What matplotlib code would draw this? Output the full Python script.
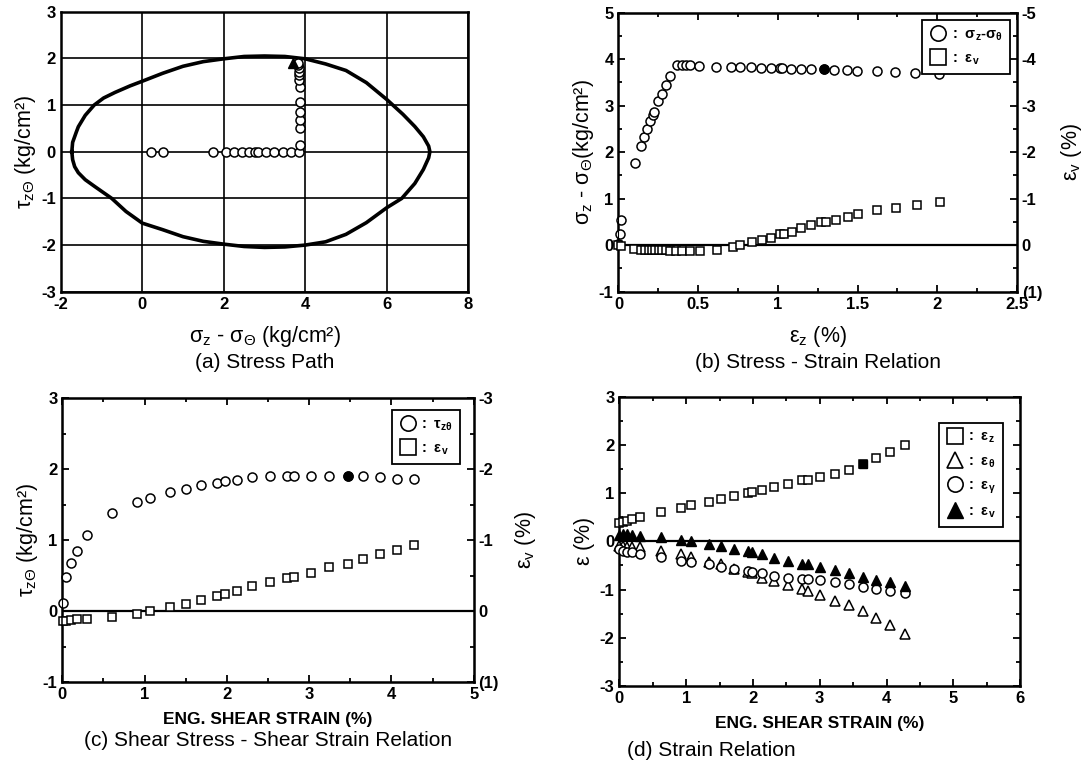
import numpy as np
import matplotlib
matplotlib.use("Agg")
import matplotlib.pyplot as plt
from matplotlib.ticker import MultipleLocator, FormatStrFormatter
from matplotlib.lines import Line2D

plt.rcParams['font.family'] = ['Liberation Sans', 'DejaVu Sans']
plt.rcParams['mathtext.fontset'] = 'custom'
plt.rcParams['mathtext.rm'] = 'Liberation Sans'
plt.rcParams['mathtext.it'] = 'Liberation Sans:italic'
plt.rcParams['mathtext.bf'] = 'Liberation Sans:bold'
plt.rcParams['mathtext.default'] = 'regular'
plt.rcParams['axes.unicode_minus'] = False

## (a) stress path data
fail_x = [-1.73, -1.71, -1.62, -1.57, -1.40, -1.18, -0.95, -0.67, -0.30, 0.0, 0.5, 1.0, 1.5,
          2.0, 2.5, 3.0, 3.5, 4.0, 4.5, 5.0, 5.5, 6.0, 6.4, 6.69, 6.9, 7.03, 7.06, 7.03, 6.9,
          6.69, 6.37, 6.0, 5.5, 5.0, 4.5, 4.0, 3.5, 3.0, 2.5, 2.0, 1.5, 1.0, 0.5, 0.0, -0.4,
          -0.75, -1.16, -1.40, -1.57, -1.66, -1.71, -1.73]
fail_y = [0.0, 0.20, 0.42, 0.535, 0.78, 1.0, 1.15, 1.27, 1.41, 1.51, 1.68, 1.83, 1.93, 1.99,
          2.04, 2.05, 2.04, 1.99, 1.88, 1.74, 1.48, 1.12, 0.80, 0.54, 0.32, 0.12, 0.0, -0.13,
          -0.38, -0.68, -1.0, -1.2, -1.52, -1.77, -1.93, -2.0, -2.04, -2.05, -2.03, -1.98,
          -1.92, -1.82, -1.67, -1.53, -1.28, -1.0, -0.75, -0.60, -0.45, -0.32, -0.17, 0.0]
path_sig = [0.21, 0.50, 1.74, 2.05, 2.25, 2.44, 2.63, 2.77, 2.83, 3.04, 3.24, 3.45, 3.65,
            3.85, 3.86, 3.87, 3.86, 3.86, 3.86, 3.86, 3.85, 3.85, 3.85, 3.84, 3.83, 3.82]
path_tau = [0.0, 0.0, 0.0, 0.0, 0.0, 0.0, 0.0, 0.0, 0.0, 0.0, 0.0, 0.0, 0.0,
            0.0, 0.14, 0.50, 0.68, 0.86, 1.06, 1.38, 1.54, 1.64, 1.71, 1.79, 1.86, 1.91]
path_end = (3.71, 1.89)

## (b) stress - strain data
b_ez = [0.0, 0.01, 0.015, 0.102, 0.141, 0.161, 0.178, 0.2, 0.217, 0.226, 0.25, 0.276, 0.298,
        0.326, 0.37, 0.396, 0.422, 0.45, 0.504, 0.609, 0.707, 0.761, 0.83, 0.896, 0.957,
        1.015, 1.026, 1.08, 1.146, 1.207, 1.291, 1.352, 1.435, 1.496, 1.62, 1.733, 1.863,
        2.009]
b_q = [0.02, 0.24, 0.54, 1.77, 2.13, 2.32, 2.49, 2.66, 2.81, 2.86, 3.09, 3.26, 3.45, 3.64,
       3.88, 3.88, 3.88, 3.88, 3.86, 3.84, 3.84, 3.84, 3.83, 3.82, 3.81, 3.81, 3.80, 3.79,
       3.79, 3.79, 3.79, 3.76, 3.76, 3.75, 3.74, 3.72, 3.70, 3.68]
b_fill = 30
b_ez_v = [0.0, 0.015, 0.096, 0.141, 0.167, 0.189, 0.211, 0.232, 0.254, 0.276, 0.298, 0.326,
          0.363, 0.396, 0.45, 0.509, 0.62, 0.717, 0.765, 0.84, 0.9, 0.96, 1.015, 1.037,
          1.09, 1.146, 1.21, 1.27, 1.3, 1.363, 1.44, 1.5, 1.624, 1.74, 1.87, 2.02]
b_ev = [0.0, 0.01, 0.09, 0.10, 0.10, 0.11, 0.11, 0.11, 0.11, 0.11, 0.11, 0.12, 0.12, 0.12,
        0.12, 0.12, 0.10, 0.03, 0.0, -0.07, -0.11, -0.16, -0.24, -0.25, -0.29, -0.36,
        -0.43, -0.50, -0.50, -0.54, -0.61, -0.66, -0.75, -0.81, -0.86, -0.93]

## (c) shear stress - shear strain data
c_g = [0.008, 0.042, 0.105, 0.177, 0.303, 0.602, 0.909, 1.06, 1.313, 1.498, 1.69, 1.88,
       1.98, 2.125, 2.31, 2.525, 2.736, 2.82, 3.02, 3.24, 3.47, 3.65, 3.86, 4.07, 4.28]
c_tau = [0.12, 0.49, 0.68, 0.85, 1.08, 1.38, 1.54, 1.59, 1.68, 1.72, 1.78, 1.81, 1.84, 1.85,
         1.89, 1.90, 1.91, 1.91, 1.91, 1.90, 1.91, 1.90, 1.89, 1.87, 1.86]
c_fill = 20
c_ev = [0.13, 0.13, 0.12, 0.11, 0.11, 0.085, 0.04, -0.01, -0.056, -0.10, -0.16, -0.22,
        -0.24, -0.29, -0.35, -0.41, -0.47, -0.49, -0.54, -0.62, -0.67, -0.73, -0.81,
        -0.87, -0.93]

## (d) strain components data
d_g = [0.0, 0.05, 0.12, 0.19, 0.31, 0.62, 0.93, 1.08, 1.34, 1.52, 1.71, 1.92, 1.99, 2.14,
       2.32, 2.52, 2.73, 2.82, 3.0, 3.23, 3.44, 3.65, 3.85, 4.05, 4.27]
d_ez = [0.38, 0.40, 0.43, 0.47, 0.50, 0.61, 0.70, 0.75, 0.81, 0.87, 0.94, 1.0, 1.02, 1.07,
        1.13, 1.18, 1.27, 1.28, 1.33, 1.40, 1.47, 1.60, 1.73, 1.86, 2.0]
d_fill = 21
d_eth = [-0.09, -0.09, -0.11, -0.11, -0.12, -0.19, -0.27, -0.32, -0.43, -0.48, -0.57, -0.64,
         -0.66, -0.75, -0.83, -0.91, -0.99, -1.04, -1.11, -1.23, -1.31, -1.45, -1.59,
         -1.74, -1.92]
d_er = [-0.16, -0.19, -0.23, -0.23, -0.26, -0.33, -0.40, -0.43, -0.48, -0.54, -0.57, -0.62,
        -0.64, -0.66, -0.71, -0.75, -0.78, -0.78, -0.81, -0.85, -0.88, -0.95, -0.99,
        -1.02, -1.07]
d_ev = [0.14, 0.16, 0.15, 0.14, 0.12, 0.09, 0.03, 0.0, -0.05, -0.10, -0.16, -0.21, -0.23,
        -0.27, -0.34, -0.40, -0.47, -0.48, -0.54, -0.59, -0.66, -0.73, -0.80, -0.85, -0.93]

TICK = 12
LAB = 15.5
CAP = 15
ms = 6.5


def style_axes(ax, xmaj, xmin, ymaj, ymin, xfmt='%g'):
    ax.xaxis.set_major_locator(MultipleLocator(xmaj))
    ax.xaxis.set_minor_locator(MultipleLocator(xmin))
    ax.yaxis.set_major_locator(MultipleLocator(ymaj))
    ax.yaxis.set_minor_locator(MultipleLocator(ymin))
    ax.xaxis.set_major_formatter(FormatStrFormatter(xfmt))
    ax.yaxis.set_major_formatter(FormatStrFormatter('%g'))
    ax.tick_params(which='both', direction='in', top=True, right=True, width=1.3,
                   labelsize=TICK)
    ax.tick_params(which='major', length=5)
    ax.tick_params(which='minor', length=3)
    for lab in ax.get_xticklabels() + ax.get_yticklabels():
        lab.set_fontweight('bold')
    for sp in ax.spines.values():
        sp.set_linewidth(1.8)


def open_pts(ax, x, y, marker, fill_idx=None, size=ms):
    x = np.asarray(x)
    y = np.asarray(y)
    ax.plot(x, y, ls='none', marker=marker, ms=size, mfc='white', mec='black', mew=1.1,
            clip_on=False, zorder=3)
    if fill_idx is not None:
        ax.plot(x[fill_idx], y[fill_idx], ls='none', marker=marker, ms=size, mfc='black',
                mec='black', zorder=4)


def twin_ev(ax, lo, hi, labels, pad):
    ax2 = ax.twinx()
    ax2.set_ylim(hi, lo)
    ticks = list(range(int(lo), int(hi) + 1))
    ax2.set_yticks(ticks)
    ax2.set_yticklabels(labels, fontsize=TICK, fontweight='bold')
    ax2.yaxis.set_minor_locator(MultipleLocator(0.5))
    ax2.tick_params(which='both', direction='in', width=1.3)
    ax2.tick_params(which='major', length=5)
    ax2.tick_params(which='minor', length=3)
    ax2.set_ylabel(r'$\epsilon_v$ (%)', fontsize=LAB, labelpad=pad)
    return ax2


def leg(ax, handles, labels, anchor):
    lg = ax.legend(handles, labels, loc='upper right', bbox_to_anchor=anchor, frameon=True,
                   fancybox=False, edgecolor='black', framealpha=1, fontsize=10.5,
                   handletextpad=0.3, borderpad=0.5, labelspacing=0.6, handlelength=1.2)
    lg.get_frame().set_linewidth(1.3)
    for t in lg.get_texts():
        t.set_fontweight('bold')


fig = plt.figure(figsize=(10.86, 7.67), dpi=100)

## (a)
ax = fig.add_axes([0.0560, 0.6196, 0.3751, 0.3652])
ax.plot(fail_x, fail_y, color='black', lw=2.6, zorder=2, solid_joinstyle='round')
open_pts(ax, path_sig, path_tau, 'o', size=6.5)
ax.plot(*path_end, ls='none', marker='^', ms=7, color='black', zorder=4)
ax.set_xlim(-2, 8)
ax.set_ylim(-3, 3)
ax.grid(True, color='black', lw=1.2)
style_axes(ax, 2, 2, 1, 1)
ax.tick_params(which='both', length=0)
ax.set_xlabel(r'$\sigma_z$ - $\sigma_\Theta$ (kg/cm²)', fontsize=LAB, labelpad=9)
ax.set_ylabel(r'$\tau_{z\Theta}$ (kg/cm²)', fontsize=LAB, labelpad=2)
fig.text(0.2435, 0.528, '(a) Stress Path', ha='center', va='center', fontsize=CAP)

## (b)
ax = fig.add_axes([0.5695, 0.6197, 0.3669, 0.3638])
ax.axhline(0, color='black', lw=1.6, zorder=1)
open_pts(ax, b_ez, b_q, 'o', fill_idx=b_fill)
ax.set_xlim(0, 2.5)
ax.set_ylim(-1, 5)
style_axes(ax, 0.5, 0.25, 1, 0.5)
ax.tick_params(right=False)
ax.set_xlabel(r'$\epsilon_z$ (%)', fontsize=LAB, labelpad=9)
ax.set_ylabel(r'$\sigma_z$ - $\sigma_\Theta$(kg/cm²)', fontsize=LAB, labelpad=2)
ax2 = twin_ev(ax, -5, 1, ['-5', '-4', '-3', '-2', '-1', '0', '(1)'], 12)
open_pts(ax2, b_ez_v, b_ev, 's', size=6)
ax2.set_xlim(0, 2.5)
hb = [Line2D([], [], ls='none', marker='o', ms=11, mfc='white', mec='black', mew=1.2),
      Line2D([], [], ls='none', marker='s', ms=11, mfc='white', mec='black', mew=1.2)]
leg(ax, hb, [r':  $\sigma_z$-$\sigma_\theta$', r':  $\epsilon_v$'], (1.0, 1.0))
fig.text(0.7530, 0.527, '(b) Stress - Strain Relation', ha='center', va='center',
         fontsize=CAP)

## (c)
ax = fig.add_axes([0.0574, 0.1104, 0.3788, 0.3703])
ax.axhline(0, color='black', lw=1.6, zorder=1)
open_pts(ax, c_g, c_tau, 'o', fill_idx=c_fill)
ax.set_xlim(0, 5)
ax.set_ylim(-1, 3)
style_axes(ax, 1, 0.5, 1, 0.5)
ax.tick_params(right=False)
ax.set_xlabel('ENG. SHEAR STRAIN (%)', fontsize=12.5, fontweight='bold', labelpad=7)
ax.set_ylabel(r'$\tau_{z\Theta}$ (kg/cm²)', fontsize=LAB, labelpad=2)
ax2 = twin_ev(ax, -3, 1, ['-3', '-2', '-1', '0', '(1)'], 10)
open_pts(ax2, c_g, c_ev, 's', size=6)
ax2.set_xlim(0, 5)
leg(ax, hb, [r':  $\tau_{z\theta}$', r':  $\epsilon_v$'], (0.985, 0.985))
fig.text(0.2468, 0.035, '(c) Shear Stress - Shear Strain Relation', ha='center',
         va='center', fontsize=CAP)

## (d)
ax = fig.add_axes([0.5703, 0.1056, 0.3690, 0.3772])
ax.axhline(0, color='black', lw=1.6, zorder=1)
open_pts(ax, d_g, d_ez, 's', fill_idx=d_fill, size=6)
open_pts(ax, d_g, d_eth, '^', size=7)
open_pts(ax, d_g, d_er, 'o', size=6.5)
ax.plot(d_g, d_ev, ls='none', marker='^', ms=7.5, color='black', clip_on=False, zorder=4)
ax.set_xlim(0, 6)
ax.set_ylim(-3, 3)
style_axes(ax, 1, 0.5, 1, 0.5)
ax.set_xlabel('ENG. SHEAR STRAIN (%)', fontsize=12.5, fontweight='bold', labelpad=7)
ax.set_ylabel(r'$\epsilon$ (%)', fontsize=LAB, labelpad=2)
hd = [Line2D([], [], ls='none', marker='s', ms=11, mfc='white', mec='black', mew=1.2),
      Line2D([], [], ls='none', marker='^', ms=11, mfc='white', mec='black', mew=1.2),
      Line2D([], [], ls='none', marker='o', ms=11, mfc='white', mec='black', mew=1.2),
      Line2D([], [], ls='none', marker='^', ms=11, color='black')]
leg(ax, hd, [r':  $\epsilon_z$', r':  $\epsilon_\theta$', r':  $\epsilon_\gamma$',
             r':  $\epsilon_v$'], (0.975, 0.935))
fig.text(0.6550, 0.022, '(d) Strain Relation', ha='center', va='center', fontsize=CAP)

fig.savefig('out.png', dpi=100)
